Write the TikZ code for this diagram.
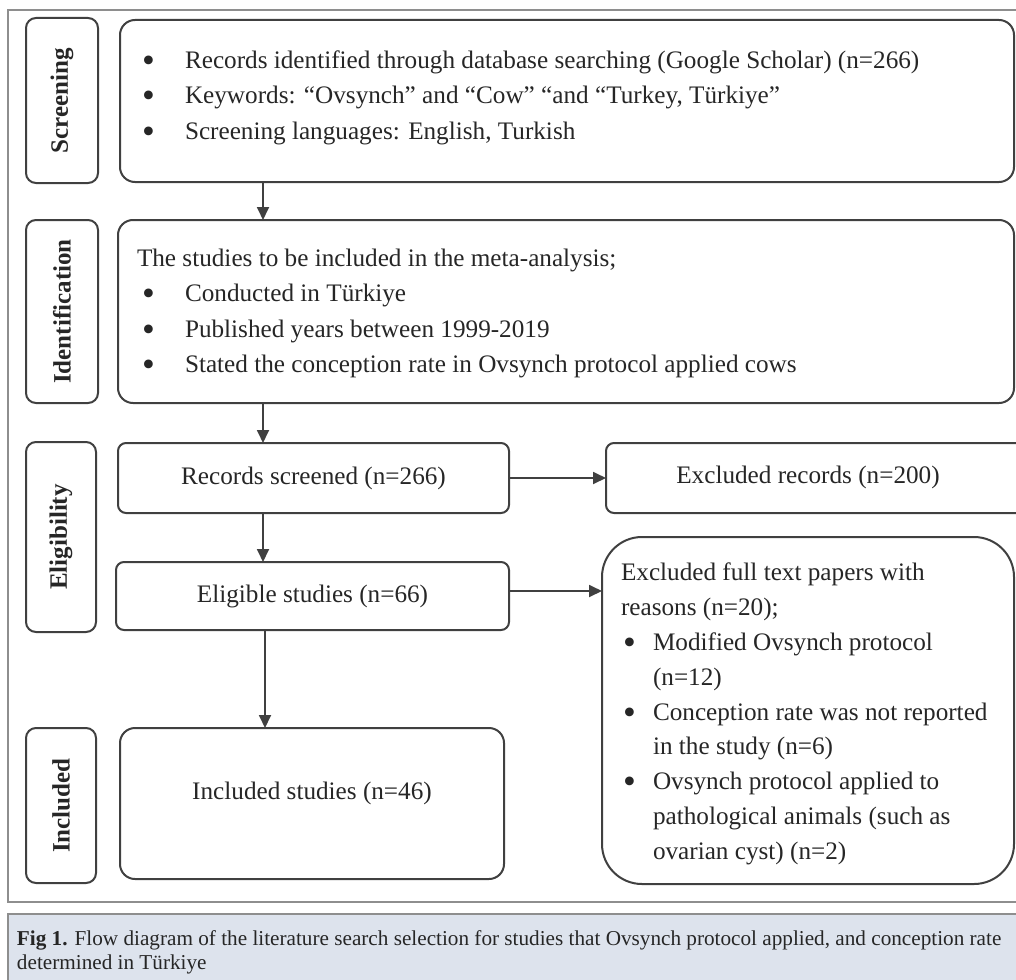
\documentclass[tikz,border=0pt]{standalone}
\usepackage{fontspec}
\setmainfont{Liberation Serif}
\usetikzlibrary{arrows.meta}
\definecolor{ln}{HTML}{404040}
\definecolor{txt}{HTML}{262626}
\definecolor{capfill}{HTML}{DDE3ED}
\definecolor{framec}{HTML}{8E8E8E}
\newcommand{\bigbul}{\raisebox{-0.35ex}{\scalebox{1.45}{\textbullet}}}
\begin{document}
\begin{tikzpicture}[x=0.5pt,y=-0.5pt,
  every node/.style={inner sep=0pt,outer sep=0pt,text=txt},
  rbox/.style={draw=ln,line width=1pt,rounded corners=#1},
  sidelbl/.style={rbox=5pt,rotate=90,font=\fontsize{12.5}{14}\selectfont\bfseries},
  mtxt/.style={font=\fontsize{12.6}{17.75}\selectfont,align=left},
  arr/.style={draw=ln,line width=0.9pt,-{Triangle[length=6.5pt,width=6pt]}}]
\useasboundingbox (0,0) rectangle (1016,979);
% outer frame and caption
\draw[framec,line width=0.8pt] (8,10) rectangle (1040,902);
\draw[framec,fill=capfill,line width=0.8pt] (8,914) rectangle (1040,1000);
\node[anchor=base west,font=\fontsize{10.6}{12}\selectfont] (cap1) at (17,945)
  {\textbf{Fig 1.} Flow diagram of the literature search selection for studies that Ovsynch protocol applied, and conception rate};
\node[anchor=base west,font=\fontsize{10.6}{12}\selectfont] (cap2) at (17,969)
  {determined in Türkiye};
% side labels
\node[sidelbl,minimum width=82.5pt,minimum height=36pt] (l1) at (62,100.5) {Screening};
\node[sidelbl,minimum width=91.5pt,minimum height=36pt] (l2) at (62,311.5) {Identification};
\node[sidelbl,minimum width=95pt,minimum height=35pt] (l3) at (61,537) {Eligibility};
\node[sidelbl,minimum width=77.5pt,minimum height=35pt] (l4) at (61,805.5) {Included};
% main boxes
\node[rbox=7.5pt,minimum width=447pt,minimum height=81pt] (scr) at (567,101) {};
\node[mtxt,anchor=west] (scrt) at (142,97.5)
  {\makebox[21.5pt][l]{\bigbul}Records identified through database searching (Google Scholar) (n=266)\\
   \makebox[21.5pt][l]{\bigbul}Keywords: “Ovsynch” and “Cow” “and “Turkey, Türkiye”\\
   \makebox[21.5pt][l]{\bigbul}Screening languages: English, Turkish};
\node[rbox=7.5pt,minimum width=448pt,minimum height=91.5pt] (idn) at (566,311.5) {};
\node[mtxt,anchor=west] (idnt) at (137,313.5)
  {The studies to be included in the meta-analysis;\\
   \hspace*{2.5pt}\makebox[21.5pt][l]{\bigbul}Conducted in Türkiye\\
   \hspace*{2.5pt}\makebox[21.5pt][l]{\bigbul}Published years between 1999-2019\\
   \hspace*{2.5pt}\makebox[21.5pt][l]{\bigbul}Stated the conception rate in Ovsynch protocol applied cows};
\node[rbox=4pt,minimum width=195.5pt,minimum height=35pt,font=\fontsize{12.6}{14}\selectfont] (rec) at (313.5,478) {Records screened (n=266)};
\node[rbox=4pt,minimum width=212pt,minimum height=35pt] (exr) at (818,478) {};
\node[font=\fontsize{12.6}{14}\selectfont] (exrt) at (808,477) {Excluded records (n=200)};
\node[rbox=4pt,minimum width=196.5pt,minimum height=34pt,font=\fontsize{12.6}{14}\selectfont] (elg) at (312.5,596) {Eligible studies (n=66)};
\node[rbox=20pt,minimum width=206pt,minimum height=173.5pt] (exf) at (808,710.5) {};
\node[mtxt,anchor=west,font=\fontsize{12.6}{17.4}\selectfont] (exft) at (621,714)
  {Excluded full text papers with\\
   reasons (n=20);\\
   \hspace*{1pt}\makebox[15pt][l]{\bigbul}Modified Ovsynch protocol\\
   \hspace*{16pt}(n=12)\\
   \hspace*{1pt}\makebox[15pt][l]{\bigbul}Conception rate was not reported\\
   \hspace*{16pt}in the study (n=6)\\
   \hspace*{1pt}\makebox[15pt][l]{\bigbul}Ovsynch protocol applied to\\
   \hspace*{16pt}pathological animals (such as\\
   \hspace*{16pt}ovarian cyst) (n=2)};
\node[rbox=7.5pt,minimum width=192pt,minimum height=75.5pt] (inc) at (312,803.5) {};
\node[font=\fontsize{12.6}{14}\selectfont] (inct) at (312,793) {Included studies (n=46)};
% arrows
\coordinate (ax) at (263,0);
\coordinate (ax2) at (265,0);
\coordinate (ay) at (0,591);
\draw[arr] (scr.south -| ax) -- (idn.north -| ax);
\draw[arr] (idn.south -| ax) -- (rec.north -| ax);
\draw[arr] (rec.south -| ax) -- (elg.north -| ax);
\draw[arr] (elg.south -| ax2) -- (inc.north -| ax2);
\draw[arr] (rec.east) -- (rec.east -| exr.west);
\draw[arr] (elg.east |- ay) -- (exf.west |- ay);
\end{tikzpicture}
\end{document}
